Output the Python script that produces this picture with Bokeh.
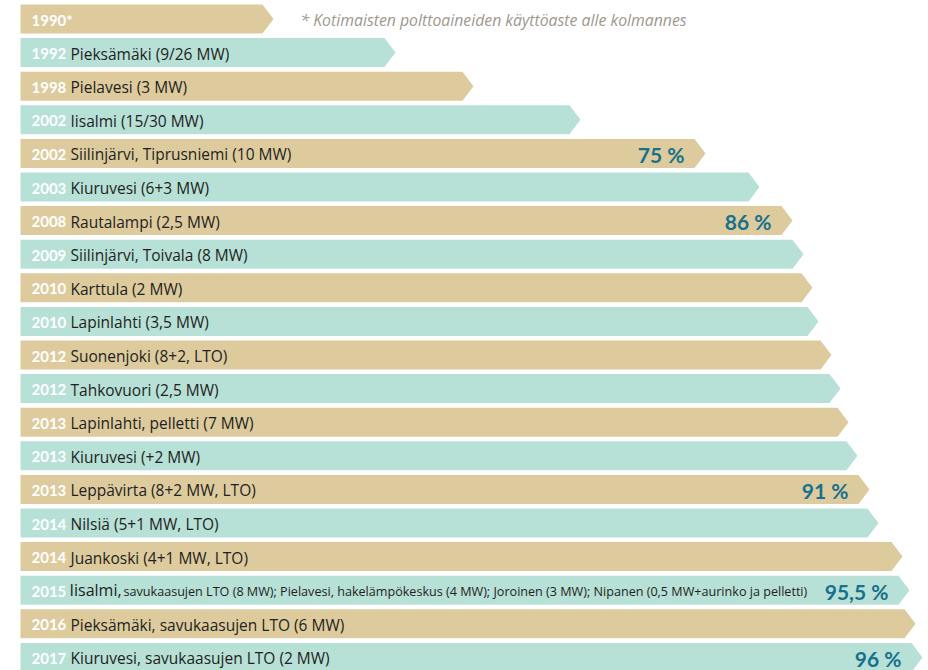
from bokeh.plotting import figure
from bokeh.models import Range1d, ColumnDataSource
from bokeh.core.properties import value
from bokeh.embed import file_html
from bokeh.resources import INLINE

# ---- data ----
years = ["1990*", "1992", "1998", "2002", "2002", "2003", "2008", "2009", "2010", "2010",
         "2012", "2012", "2013", "2013", "2013", "2014", "2014", "2015", "2016", "2017"]
labels = ["", "Pieksämäki (9/26 MW)", "Pielavesi (3 MW)", "Iisalmi (15/30 MW)",
          "Siilinjärvi, Tiprusniemi (10 MW)", "Kiuruvesi (6+3 MW)", "Rautalampi (2,5 MW)",
          "Siilinjärvi, Toivala (8 MW)", "Karttula (2 MW)", "Lapinlahti (3,5 MW)",
          "Suonenjoki (8+2, LTO)", "Tahkovuori (2,5 MW)", "Lapinlahti, pelletti (7 MW)",
          "Kiuruvesi (+2 MW)", "Leppävirta (8+2 MW, LTO)", "Nilsiä (5+1 MW, LTO)",
          "Juankoski (4+1 MW, LTO)", "Iisalmi,", "Pieksämäki, savukaasujen LTO (6 MW)",
          "Kiuruvesi, savukaasujen LTO (2 MW)"]
detail_2015 = "savukaasujen LTO (8 MW); Pielavesi, hakelämpökeskus (4 MW); Joroinen (3 MW); Nipanen (0,5 MW+aurinko ja pelletti)"
lengths = [253, 375, 453, 560, 685, 739, 772, 783, 792, 798,
           811, 820, 828, 837, 849, 858, 882, 889, 895, 902]
percents = ["", "", "", "", "75 %", "", "86 %", "", "", "",
            "", "", "", "", "91 %", "", "", "95,5 %", "", "96 %"]
footnote = "* Kotimaisten polttoaineiden käyttöaste alle kolmannes"

# ---- styling ----
TAN = "#DDCB9E"
MINT = "#B7E0D7"
TEAL = "#17708C"
DARK = "#231F20"
FONT = "Open Sans"
YFONT = "Lato"

W, H = 928, 670
PITCH = 33.6      # px per row
BAR_H = 29 / PITCH
TIP = 11
X0 = 20           # left start of bars in px
top0 = 18.5 / PITCH
y_start = -top0
y_end = y_start + H / PITCH

p = figure(width=W, height=H, output_backend="svg", toolbar_location=None,
           x_range=Range1d(-X0, W - X0), y_range=Range1d(y_end, y_start),
           x_axis_type=None, y_axis_type=None, min_border=0)
p.grid.visible = False
p.outline_line_color = None
p.background_fill_color = "white"
p.border_fill_color = "white"

n = len(years)
rows = list(range(n))
xs, ys, cols = [], [], []
for i, L in zip(rows, lengths):
    t, b = i - BAR_H / 2, i + BAR_H / 2
    xs.append([0, L - TIP, L, L - TIP, 0])
    ys.append([t, t, i, b, b])
    cols.append(TAN if i % 2 == 0 else MINT)
p.patches(xs=xs, ys=ys, fill_color=cols, line_color=None)

# year labels
p.text(x=[11] * n, y=rows, text=years, text_font=value(YFONT), text_font_style="bold",
       text_font_size="15px", text_color="white", text_baseline="middle", y_offset=1)

# main labels
main_src = ColumnDataSource(dict(x=[50] * n, y=rows,
                                 t=[l if i != 17 else "" for i, l in enumerate(labels)]))
p.text(x="x", y="y", text="t", source=main_src, text_font=value(FONT),
       text_font_size="15.5px", text_color=DARK, text_baseline="middle", y_offset=1)

# 2015 row: larger place name + small detail text
p.text(x=[49], y=[17], text=[labels[17]], text_font=value(FONT), text_font_size="16px",
       text_color=DARK, text_baseline="middle", y_offset=0)
p.text(x=[103], y=[17], text=[detail_2015], text_font=value(FONT), text_font_size="12.6px",
       text_color=DARK, text_baseline="middle", y_offset=1)

# percentage labels
pr = [i for i in rows if percents[i]]
p.text(x=[lengths[i] - 21 for i in pr], y=pr, text=[percents[i] for i in pr],
       text_font=value(YFONT), text_font_style="bold", text_font_size="21px",
       text_color=TEAL, text_align="right", text_baseline="middle", y_offset=1)

# footnote
p.text(x=[280], y=[0], text=[footnote], text_font=value(FONT), text_font_style="italic",
       text_font_size="15.8px", text_color="#A0978F", text_baseline="middle", y_offset=1)

open("out.html", "w").write(file_html(p, INLINE))
